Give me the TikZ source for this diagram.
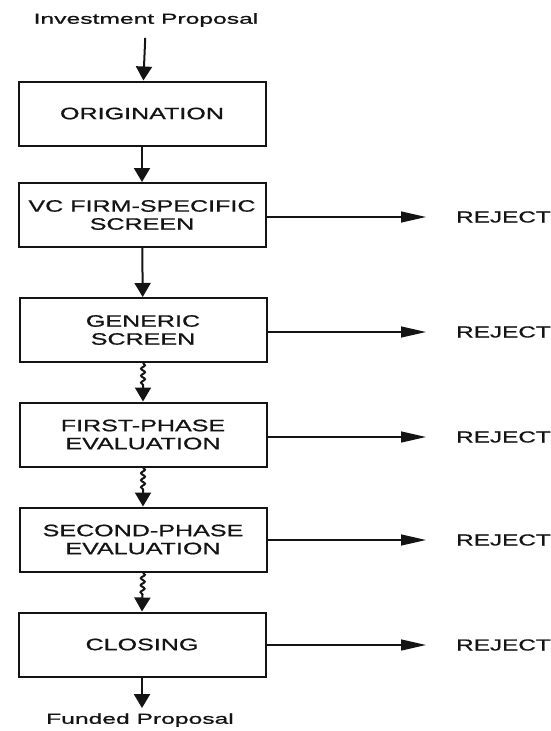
\documentclass[tikz,border=0pt]{standalone}
\usepackage{fontspec}
\usepackage{tikz}
\usetikzlibrary{arrows.meta,decorations.pathmorphing}
\newfontfamily\boxfont[FakeStretch=1.52,FakeBold=0.8]{Liberation Sans}
\newfontfamily\endfont[FakeStretch=1.7,FakeBold=1]{Liberation Sans}
\definecolor{INK}{HTML}{141414}
\begin{document}
\begin{tikzpicture}[x=1pt,y=-1pt]
\tikzset{stage/.style={draw=INK,line width=2pt,minimum width=247pt,minimum height=64pt,align=center,inner sep=0pt,
  font=\boxfont\fontsize{16.5}{18}\selectfont,text=INK},
 endtxt/.style={font=\endfont\fontsize{14.5}{16}\selectfont,text=INK,inner sep=2pt},
 rejtxt/.style={font=\boxfont\fontsize{16}{18}\selectfont,text=INK,anchor=west,inner sep=0pt},
 flow/.style={-{Triangle[length=14pt,width=16pt]},line width=2pt,INK},
 wavy/.style={flow,decorate,decoration={snake,amplitude=2pt,segment length=7pt,post length=14pt}},
 rej/.style={-{Triangle[length=25pt,width=11pt]},line width=1.3pt,INK,shorten >=30pt}}
\useasboundingbox (0,0) rectangle (550,731);
\node[endtxt] (invest) at (146,20) {Investment Proposal};
\node[stage] (orig) at (142,113.5) {ORIGINATION};
\node[stage] (vcscreen) at (142,215) {VC FIRM-SPECIFIC\\SCREEN};
\node[stage] (generic) at (143,330) {GENERIC\\SCREEN};
\node[stage] (firstph) at (143,434.5) {FIRST-PHASE\\EVALUATION};
\node[stage] (secondph) at (143,539.5) {SECOND-PHASE\\EVALUATION};
\node[stage] (closing) at (142,644.5) {CLOSING};
\node[endtxt] (funded) at (140,720) {Funded Proposal};
\node[rejtxt] (rej1) at (456,217) {REJECT};
\node[rejtxt] (rej2) at (456,332) {REJECT};
\node[rejtxt] (rej3) at (456,437) {REJECT};
\node[rejtxt] (rej4) at (456,540) {REJECT};
\node[rejtxt] (rej5) at (456,645) {REJECT};
\draw[flow,shorten <=9pt] (invest) -- (orig);
\draw[flow] (orig) -- (vcscreen);
\draw[flow] (vcscreen) -- (generic);
\draw[wavy] (generic.south) -- (firstph.north);
\draw[wavy] (firstph.south) -- (secondph.north);
\draw[wavy] (secondph.south) -- (closing.north);
\draw[flow,shorten >=3pt] (closing.south) -- (closing.south |- funded.north);
\draw[rej] (vcscreen.east |- rej1) -- (rej1.west);
\draw[rej] (generic.east |- rej2) -- (rej2.west);
\draw[rej] (firstph.east |- rej3) -- (rej3.west);
\draw[rej] (secondph.east |- rej4) -- (rej4.west);
\draw[rej] (closing.east |- rej5) -- (rej5.west);
\end{tikzpicture}
\end{document}
